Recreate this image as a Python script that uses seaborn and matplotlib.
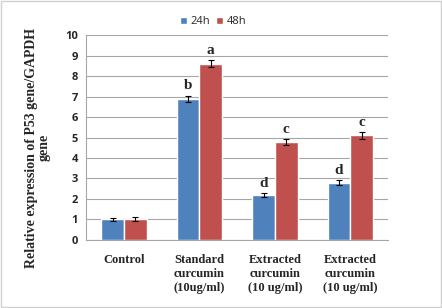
import seaborn as sns
import matplotlib.pyplot as plt
import pandas as pd

categories = ["Control", "Standard\ncurcumin\n(10ug/ml)", "Extracted\ncurcumin\n(10 ug/ml)", "Extracted\ncurcumin\n(10 ug/ml)"]
cat_keys = ["c0", "c1", "c2", "c3"]
times = ["24h", "48h"]
vals_24 = [1.0, 6.9, 2.2, 2.8]
vals_48 = [1.0, 8.6, 4.78, 5.1]
err_24 = [0.08, 0.15, 0.1, 0.12]
err_48 = [0.1, 0.18, 0.14, 0.17]
letters_24 = ["", "b", "d", "d"]
letters_48 = ["", "a", "c", "c"]

df = pd.DataFrame({
    "cat": cat_keys * 2,
    "time": ["24h"] * 4 + ["48h"] * 4,
    "val": vals_24 + vals_48,
})

sns.set_style("white")
fig = plt.figure(figsize=(4.42, 3.08), dpi=100)
ax = fig.add_axes([0.195, 0.221, 0.683, 0.665])

sns.barplot(data=df, x="cat", y="val", hue="time", order=cat_keys, hue_order=times,
            palette=["#4F81BD", "#C0504D"], width=0.6, errorbar=None, ax=ax,
            saturation=1, zorder=3)

for cont, errs, labs in zip(ax.containers, [err_24, err_48], [letters_24, letters_48]):
    for bar, e, lab in zip(cont, errs, labs):
        x = bar.get_x() + bar.get_width() / 2
        h = bar.get_height()
        ax.errorbar(x, h, yerr=e, color="black", capsize=2, elinewidth=0.8,
                    capthick=0.8, zorder=4)
        if lab:
            ax.text(x, h + e + 0.15, lab, ha="center", va="bottom",
                    family="Liberation Serif", fontweight="bold", fontsize=11)

ax.set_ylim(0, 10)
ax.set_yticks(range(0, 11))
ax.set_xlim(-0.5, 3.5)
ax.grid(axis="y", color="#a6a6a6", linewidth=0.8, zorder=0)
ax.set_axisbelow(True)
for s in ["top", "right"]:
    ax.spines[s].set_visible(False)
ax.spines["left"].set_color("#a6a6a6")
ax.spines["bottom"].set_color("#a6a6a6")
ax.tick_params(axis="y", length=3, color="#a6a6a6", labelsize=8, pad=3)
ax.tick_params(axis="x", length=0, pad=10)
for t in ax.get_yticklabels():
    t.set_fontweight("bold")
    t.set_family("Open Sans")
ax.set_xticks(range(4))
ax.set_xticklabels(categories, family="Liberation Serif", fontweight="bold",
                   fontsize=9, linespacing=1.25)
ax.set_xlabel("")
ax.set_ylabel("")
fig.text(0.085, 0.52, "Relative expression of P53 gene/GAPDH\ngene", rotation=90,
         ha="center", va="center", family="Liberation Serif", fontweight="bold",
         fontsize=10, linespacing=1.0)

leg = ax.legend(loc="upper center", bbox_to_anchor=(0.42, 1.14), ncol=2, frameon=False,
                handlelength=0.6, handleheight=0.6, handletextpad=0.3, columnspacing=0.6,
                prop={"family": "Open Sans", "size": 8})

fig.patches.append(plt.Rectangle((0.003, 0.003), 0.994, 0.994, transform=fig.transFigure,
                                 fill=False, edgecolor="#d0d0d0", linewidth=1))
fig.savefig("out.png", dpi=100)
